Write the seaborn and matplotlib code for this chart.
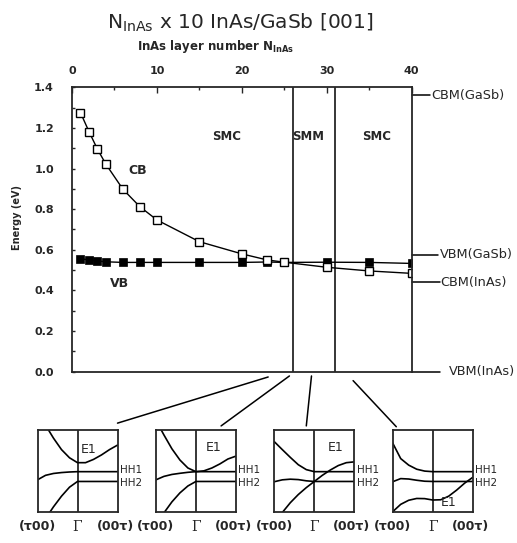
import matplotlib
matplotlib.use("Agg")
import matplotlib.pyplot as plt
import matplotlib.transforms as mtransforms
from matplotlib.patches import ConnectionPatch
from matplotlib.ticker import MultipleLocator, FormatStrFormatter
import seaborn as sns

# InAs layer number vs band edges (eV)
n_inas = [1, 2, 3, 4, 6, 8, 10, 15, 20, 23, 25, 30, 35, 40]
e_cb = [1.275, 1.182, 1.095, 1.021, 0.898, 0.812, 0.747, 0.640, 0.580, 0.550, 0.539, 0.514, 0.496, 0.484]
e_vb = [0.556, 0.550, 0.545, 0.541, 0.538, 0.538, 0.538, 0.538, 0.538, 0.540, 0.538, 0.539, 0.538, 0.533]

boundary_n = [26, 31]
region_labels = ["SMC", "SMM", "SMC"]
region_n = [18.2, 27.8, 35.9]

edge_labels = ["CBM(GaSb)", "VBM(GaSb)", "CBM(InAs)", "VBM(InAs)"]
edge_levels = [1.36, 0.575, 0.44, 0.0]

# schematic subband dispersions, (t00) -> Gamma -> (00t), normalised units
k_grid = [0.0, 0.1, 0.2, 0.3, 0.4, 0.5, 0.6, 0.7, 0.8, 0.9, 1.0]
p1_e1 = [1.25, 1.06, 0.90, 0.76, 0.66, 0.60, 0.60, 0.64, 0.695, 0.76, 0.815]
p1_hh1 = [0.39, 0.445, 0.468, 0.479, 0.486, 0.49, 0.49, 0.49, 0.49, 0.49, 0.49]
p1_hh2 = [-0.25, -0.085, 0.06, 0.19, 0.30, 0.37, 0.37, 0.37, 0.37, 0.37, 0.37]
p2_e1 = [1.12, 0.94, 0.77, 0.633, 0.535, 0.49, 0.50, 0.535, 0.585, 0.645, 0.68]
p2_hh1 = [0.39, 0.432, 0.456, 0.47, 0.482, 0.49, 0.49, 0.49, 0.49, 0.49, 0.49]
p2_hh2 = [-0.16, -0.015, 0.12, 0.23, 0.315, 0.37, 0.37, 0.37, 0.37, 0.37, 0.37]
p3_e1 = [-0.14, -0.01, 0.11, 0.21, 0.295, 0.37, 0.445, 0.51, 0.565, 0.60, 0.61]
p3_hh1 = [0.857, 0.76, 0.665, 0.575, 0.515, 0.49, 0.49, 0.49, 0.49, 0.49, 0.49]
p3_hh2 = [0.367, 0.39, 0.398, 0.393, 0.378, 0.37, 0.37, 0.37, 0.37, 0.37, 0.37]
p4_e1 = [0.0, 0.09, 0.14, 0.162, 0.16, 0.143, 0.146, 0.19, 0.265, 0.35, 0.42]
p4_hh1 = [0.84, 0.65, 0.57, 0.52, 0.497, 0.49, 0.49, 0.49, 0.49, 0.49, 0.49]
p4_hh2 = [0.367, 0.405, 0.40, 0.385, 0.373, 0.37, 0.37, 0.37, 0.37, 0.37, 0.37]
panel_bands = [(p1_e1, p1_hh1, p1_hh2), (p2_e1, p2_hh1, p2_hh2),
               (p3_e1, p3_hh1, p3_hh2), (p4_e1, p4_hh1, p4_hh2)]
hh_labels = ["HH1", "HH2"]
hh_text_y = [0.515, 0.35]
e1_pos = [(0.64, 0.76), (0.72, 0.78), (0.77, 0.79), (0.70, 0.11)]
k_labels = ["(\u03c400)", "\u0393", "(00\u03c4)"]

# where the pointer lines start (main plot) and end (panel)
conn_n = [23.1, 25.6, 28.2, 33.1]
conn_e = [-0.026, -0.021, -0.021, -0.044]
conn_px = [1.0, 0.815, 0.40, 0.045]
conn_py = [1.084, 1.05, 1.05, 1.04]

sns.set_style("ticks")
plt.rcParams['font.family'] = ['DejaVu Sans']
plt.rcParams['mathtext.fontset'] = 'dejavusans'

W, H = 517, 543
fig = plt.figure(figsize=(W / 100, H / 100), dpi=100)
ax = fig.add_axes([72 / W, (H - 371.7) / H, 339.7 / W, 284.4 / H])

sns.lineplot(x=n_inas, y=e_vb, marker='s', markersize=6.3, markerfacecolor='black',
             markeredgecolor='black', markeredgewidth=0.5, color='black', lw=1.0, ax=ax)
sns.lineplot(x=n_inas, y=e_cb, marker='s', markersize=5.5, markerfacecolor='white',
             markeredgecolor='black', markeredgewidth=1.0, color='black', lw=1.0, ax=ax)
for n in boundary_n:
    ax.axvline(n, color='black', lw=1.1)

ax.set_xlim(0, 40)
ax.set_ylim(0, 1.4)
ax.xaxis.tick_top()
ax.xaxis.set_major_locator(MultipleLocator(10))
ax.xaxis.set_minor_locator(MultipleLocator(5))
ax.yaxis.set_major_locator(MultipleLocator(0.2))
ax.yaxis.set_minor_locator(MultipleLocator(0.1))
ax.yaxis.set_major_formatter(FormatStrFormatter('%.1f'))
ax.tick_params(axis='x', which='both', direction='in', top=True, bottom=False, pad=8,
               labelsize=8, width=1)
ax.tick_params(axis='x', which='major', length=4)
ax.tick_params(axis='x', which='minor', length=2.5)
ax.tick_params(axis='y', which='both', direction='in', left=True, right=False, pad=13,
               labelsize=8, length=2.5, width=1)
for lab in ax.get_xticklabels() + ax.get_yticklabels():
    lab.set_fontweight('bold')
for sp in ax.spines.values():
    sp.set_visible(True)
    sp.set_linewidth(1.3)
ax.set_xlabel('')
ax.set_ylabel('')

for lab, n in zip(region_labels, region_n):
    ax.text(n, 1.156, lab, ha='center', va='center', fontsize=8.5, fontweight='bold')
ax.text(7.7, 0.99, "CB", ha='center', va='center', fontsize=9, fontweight='bold')
ax.text(5.6, 0.432, "VB", ha='center', va='center', fontsize=9, fontweight='bold')

# band edge markers on the right
blend = mtransforms.blended_transform_factory(ax.transAxes, ax.transData)
line_end = [1.054, 1.077, 1.083, 1.083]
text_x = [1.057, 1.083, 1.083, 1.11]
for lab, lev, le, tx in zip(edge_labels, edge_levels, line_end, text_x):
    ax.plot([1.0, le], [lev, lev], color='black', lw=1.1, transform=blend, clip_on=False)
    ax.text(tx, lev, lab, transform=blend, ha='left', va='center', fontsize=9.3)

fig.text(240 / W, 1 - 28.3 / H, r"N$_{\mathregular{InAs}}$ x 10 InAs/GaSb [001]",
         ha='center', va='baseline', fontsize=14.5)
fig.text(216 / W, 1 - 50 / H, r"InAs layer number N$_{\mathbf{InAs}}$",
         ha='center', va='baseline', fontsize=8.5, fontweight='bold')
fig.text(17 / W, 1 - 217 / H, "Energy (eV)", rotation=90, ha='center', va='center',
         fontsize=7, fontweight='bold')

# four schematic band structure panels
for i, bands in enumerate(panel_bands):
    pax = fig.add_axes([(37.5 + 118.4 * i) / W, (H - 511.7) / H, 80 / W, 81.7 / H])
    for band in bands:
        sns.lineplot(x=k_grid, y=band, color='black', lw=1.2, ax=pax)
    pax.axvline(0.5, color='black', lw=1.1)
    pax.set_xlim(0, 1)
    pax.set_ylim(0, 1)
    pax.set_xticks([])
    pax.set_yticks([])
    pax.set_xlabel('')
    pax.set_ylabel('')
    for sp in pax.spines.values():
        sp.set_visible(True)
        sp.set_linewidth(1.3)
    for lab, ty in zip(hh_labels, hh_text_y):
        pax.text(1.03, ty, lab, transform=pax.transAxes, ha='left', va='center', fontsize=7.5)
    pax.text(e1_pos[i][0], e1_pos[i][1], "E1", transform=pax.transAxes, ha='center',
             va='center', fontsize=9)
    pax.text(0.0, -0.184, k_labels[0], transform=pax.transAxes, ha='center', va='center',
             fontsize=9, fontweight='bold')
    pax.text(0.5, -0.184, k_labels[1], transform=pax.transAxes, ha='center', va='center',
             fontsize=10, family='DejaVu Serif')
    pax.text(0.97, -0.184, k_labels[2], transform=pax.transAxes, ha='center', va='center',
             fontsize=9, fontweight='bold')

    con = ConnectionPatch(xyA=(conn_n[i], conn_e[i]), coordsA=ax.transData,
                          xyB=(conn_px[i], conn_py[i]), coordsB=pax.transAxes,
                          color='black', lw=1.1)
    fig.add_artist(con)

fig.savefig("out.png", dpi=100)
